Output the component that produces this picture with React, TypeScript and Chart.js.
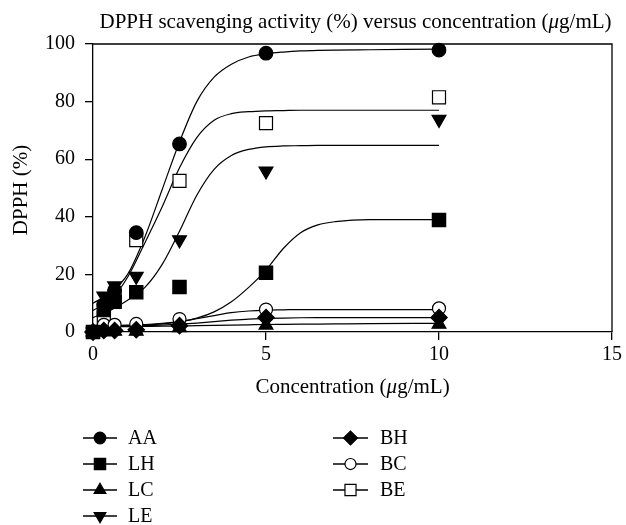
import React, { useEffect, useRef } from 'react';
import { Chart, registerables } from 'chart.js';
import { drawPoint } from 'chart.js/helpers';

Chart.register(...registerables);

// Measured concentrations (µg/mL)
const CONC = [0, 0.3125, 0.625, 1.25, 2.5, 5, 10];

// Measured DPPH scavenging (%)
const AA = [0, 9.5, 14.5, 34.5, 65.3, 96.8, 97.9];
const LH = [0, 7.6, 10.5, 13.8, 15.6, 20.6, 38.9];
const LC = [0, 0, 0.3, 0.3, 1.5, 2.4, 2.7];
const LE = [0, 12.5, 16, 19.3, 32, 55.9, 73.8];
const BH = [0, 0.5, 0.5, 0.8, 2.2, 5.0, 5.0];
const BC = [0, 2.5, 2.5, 2.8, 4.5, 7.8, 8.2];
const BE = [0, 5, 12.5, 31.9, 52.5, 72.5, 81.5];

// Fitted sigmoid curves
const FIT_X = [0, 0.5, 1, 1.5, 2, 2.5, 3, 3.5, 4, 4.5, 5, 5.5, 6, 6.5, 7, 8, 10];
const AA_FIT = [10, 13.5, 20, 33, 49.5, 66, 80, 88.5, 93, 95.5, 96.6, 97.2, 97.6, 97.8, 97.9, 98, 98.2];
const BE_FIT = [7.5, 11, 19, 31, 43.5, 57, 67.5, 73.5, 75.8, 76.5, 76.8, 76.9, 77, 77, 77, 77, 77];
const LE_FIT = [5, 7.5, 11, 15.5, 23.5, 35, 47.5, 56.5, 61.3, 63.4, 64.3, 64.6, 64.7, 64.8, 64.8, 64.8, 64.8];
const LH_FIT = [2, 2.1, 2.2, 2.4, 2.8, 3.5, 4.8, 7, 10.5, 15.5, 21.5, 29, 34.5, 37.2, 38.3, 39, 39];
const BC_FIT = [2.3, 2.3, 2.4, 2.6, 3, 3.6, 4.6, 5.7, 6.7, 7.3, 7.6, 7.7, 7.8, 7.8, 7.8, 7.8, 7.8];
const BH_FIT = [2, 2, 2.1, 2.2, 2.4, 2.7, 3.1, 3.6, 4.1, 4.5, 4.7, 4.85, 4.95, 5, 5, 5, 5];
const LC_FIT = [1.8, 1.85, 1.9, 1.95, 2, 2.1, 2.2, 2.3, 2.4, 2.5, 2.6, 2.65, 2.7, 2.75, 2.8, 2.9, 3.0];

const X_TICKS = [0, 5, 10, 15];
const Y_TICKS = [0, 20, 40, 60, 80, 100];

const LEGEND_COL1 = ['AA', 'LH', 'LC', 'LE'];
const LEGEND_COL2 = ['BH', 'BC', 'BE'];

const FONT = '"Liberation Serif", "Times New Roman", serif';

type Series = { label: string; y: number[]; fit: number[]; style: string; fill: string; r: number; rot: number };

const SERIES: Series[] = [
  { label: 'AA', y: AA, fit: AA_FIT, style: 'circle', fill: '#000', r: 6.8, rot: 0 },
  { label: 'LH', y: LH, fit: LH_FIT, style: 'rect', fill: '#000', r: 9.4, rot: 0 },
  { label: 'LC', y: LC, fit: LC_FIT, style: 'triangle', fill: '#000', r: 8, rot: 0 },
  { label: 'LE', y: LE, fit: LE_FIT, style: 'triangle', fill: '#000', r: 8, rot: 180 },
  { label: 'BH', y: BH, fit: BH_FIT, style: 'rectRot', fill: '#000', r: 8.2, rot: 0 },
  { label: 'BC', y: BC, fit: BC_FIT, style: 'circle', fill: '#fff', r: 6.5, rot: 0 },
  { label: 'BE', y: BE, fit: BE_FIT, style: 'rect', fill: '#fff', r: 9.2, rot: 0 },
];

function drawMixed(ctx: CanvasRenderingContext2D, parts: { t: string; it?: boolean }[], cx: number, cy: number, size: number) {
  const fontFor = (it?: boolean) => `${it ? 'italic ' : ''}${size}px ${FONT}`;
  let total = 0;
  for (const p of parts) {
    ctx.font = fontFor(p.it);
    total += ctx.measureText(p.t).width;
  }
  let x = cx - total / 2;
  ctx.textAlign = 'left';
  ctx.textBaseline = 'middle';
  for (const p of parts) {
    ctx.font = fontFor(p.it);
    ctx.fillText(p.t, x, cy);
    x += ctx.measureText(p.t).width;
  }
}

const decorPlugin = {
  id: 'decor',
  beforeDatasetsDraw(chart: any) {
    const { ctx, chartArea } = chart;
    ctx.save();
    ctx.strokeStyle = '#000';
    ctx.lineWidth = 1.3;
    ctx.beginPath();
    ctx.moveTo(chartArea.left, chartArea.top);
    ctx.lineTo(chartArea.right, chartArea.top);
    ctx.lineTo(chartArea.right, chartArea.bottom);
    ctx.stroke();
    ctx.restore();
  },
  afterDraw(chart: any) {
    const { ctx, chartArea } = chart;
    const cx = (chartArea.left + chartArea.right) / 2;
    ctx.save();
    ctx.fillStyle = '#000';
    // Title
    drawMixed(ctx, [
      { t: 'DPPH scavenging activity (%) versus concentration (' },
      { t: 'μ', it: true },
      { t: 'g/mL)' },
    ], cx + 3, 22, 21);
    // X title
    drawMixed(ctx, [
      { t: 'Concentration (' },
      { t: 'μ', it: true },
      { t: 'g/mL)' },
    ], cx, 387, 21);
    // Y title
    ctx.save();
    ctx.translate(21, (chartArea.top + chartArea.bottom) / 2 + 2);
    ctx.rotate(-Math.PI / 2);
    drawMixed(ctx, [{ t: 'DPPH (%)' }], 0, 0, 21);
    ctx.restore();

    // Legend
    const rowY = [438, 464, 490, 516];
    const cols = [
      { names: LEGEND_COL1, x0: 83, x1: 117, tx: 128 },
      { names: LEGEND_COL2, x0: 333, x1: 368, tx: 380 },
    ];
    for (const col of cols) {
      col.names.forEach((name, i) => {
        const s = SERIES.find((q) => q.label === name)!;
        const y = rowY[i];
        ctx.strokeStyle = '#000';
        ctx.lineWidth = 1.3;
        ctx.beginPath();
        ctx.moveTo(col.x0, y);
        ctx.lineTo(col.x1, y);
        ctx.stroke();
        ctx.fillStyle = s.fill;
        ctx.strokeStyle = '#000';
        ctx.lineWidth = 1.2;
        drawPoint(ctx, { pointStyle: s.style as any, radius: s.r * 0.85, rotation: s.rot, borderWidth: 1.2 } as any, (col.x0 + col.x1) / 2, y);
        ctx.fillStyle = '#000';
        ctx.font = `20px ${FONT}`;
        ctx.textAlign = 'left';
        ctx.textBaseline = 'middle';
        ctx.fillText(name, col.tx, y + 1);
      });
    }
    ctx.restore();
  },
};

export default function App() {
  const ref = useRef<HTMLCanvasElement>(null);
  useEffect(() => {
    if (!ref.current) return;
    const markerSets = SERIES.map((s) => ({
      label: s.label,
      data: CONC.map((x, i) => ({ x, y: s.y[i] })),
      showLine: false,
      pointStyle: s.style,
      pointRadius: s.r,
      pointHoverRadius: s.r,
      pointRotation: s.rot,
      pointBackgroundColor: s.fill,
      pointBorderColor: '#000',
      pointBorderWidth: 1.2,
      clip: false,
      order: 0,
    }));
    const fitSets = SERIES.map((s) => ({
      label: s.label + ' fit',
      data: FIT_X.map((x, i) => ({ x, y: s.fit[i] })),
      showLine: true,
      pointRadius: 0,
      pointHoverRadius: 0,
      borderColor: '#000',
      borderWidth: 1.2,
      cubicInterpolationMode: 'monotone',
      fill: false,
      order: 1,
    }));
    const chart = new Chart(ref.current, {
      type: 'scatter',
      data: { datasets: [...markerSets, ...fitSets] as any },
      plugins: [decorPlugin],
      options: {
        animation: false,
        responsive: true,
        maintainAspectRatio: false,
        devicePixelRatio: 1,
        events: [],
        layout: { padding: { left: 0, right: 14, top: 44, bottom: 525 - 332 - 32 } },
        plugins: { legend: { display: false }, tooltip: { enabled: false }, title: { display: false } },
        scales: {
          x: {
            type: 'linear',
            min: 0,
            max: 15,
            afterBuildTicks: (scale: any) => {
              scale.ticks = X_TICKS.map((v) => ({ value: v }));
            },
            afterFit: (scale: any) => {
              scale.height = 32;
            },
            grid: { drawOnChartArea: false, drawTicks: true, tickLength: 8, color: '#000', lineWidth: 1.3 },
            border: { display: true, color: '#000', width: 1.3 },
            ticks: { color: '#000', font: { family: FONT, size: 20 }, padding: 3, maxRotation: 0 },
          },
          y: {
            type: 'linear',
            min: 0,
            max: 100,
            afterBuildTicks: (scale: any) => {
              scale.ticks = Y_TICKS.map((v) => ({ value: v }));
            },
            afterFit: (scale: any) => {
              scale.width = 93;
            },
            grid: { drawOnChartArea: false, drawTicks: true, tickLength: 8, color: '#000', lineWidth: 1.3 },
            border: { display: true, color: '#000', width: 1.3 },
            ticks: { color: '#000', font: { family: FONT, size: 20 }, padding: 10 },
          },
        },
      },
    });
    return () => chart.destroy();
  }, []);
  return (
    <div style={{ position: 'absolute', left: 0, top: 0, width: 626, height: 525, background: '#fff' }}>
      <canvas ref={ref} />
    </div>
  );
}
